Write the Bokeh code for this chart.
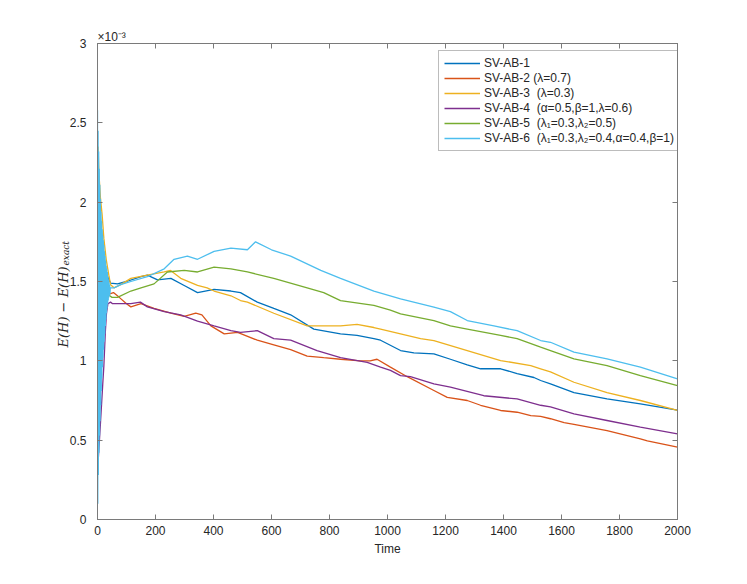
from bokeh.plotting import figure
from bokeh.models import LinearAxis, FixedTicker, Range1d, Title
from bokeh.embed import file_html
from bokeh.resources import INLINE

# ---------------- data (values in units of 1e-3) ----------------
t_ab1 = [0, 10, 20, 30, 45, 69, 100, 150, 172, 207, 253, 299, 345, 402, 460, 493, 551, 608, 666, 746,
         838, 895, 953, 976, 1045, 1091, 1160, 1217, 1275, 1321, 1390, 1447, 1505, 1528, 1562, 1643,
         1757, 1872, 2000]
v_ab1 = [1.40, 1.90, 1.70, 1.55, 1.49, 1.485, 1.50, 1.53, 1.54, 1.51, 1.52, 1.475, 1.43, 1.45, 1.44,
         1.43, 1.37, 1.33, 1.29, 1.20, 1.17, 1.16, 1.14, 1.13, 1.065, 1.05, 1.044, 1.01, 0.975, 0.95,
         0.95, 0.92, 0.895, 0.876, 0.855, 0.80, 0.76, 0.729, 0.69]

t_ab2 = [0, 20, 40, 55, 75, 100, 115, 150, 195, 253, 299, 339, 360, 391, 437, 483, 551, 608, 666, 723,
         780, 838, 907, 940, 964, 1010, 1068, 1160, 1206, 1275, 1321, 1390, 1447, 1494, 1528, 1562,
         1609, 1643, 1757, 1872, 1896, 2000]
v_ab2 = [1.40, 1.50, 1.42, 1.43, 1.40, 1.36, 1.34, 1.36, 1.33, 1.30, 1.28, 1.30, 1.29, 1.22, 1.17,
         1.18, 1.13, 1.10, 1.07, 1.03, 1.02, 1.01, 1.00, 1.00, 1.01, 0.96, 0.90, 0.813, 0.77, 0.75,
         0.72, 0.687, 0.676, 0.655, 0.65, 0.635, 0.61, 0.60, 0.56, 0.508, 0.495, 0.456]

t_ab3 = [0, 2, 5, 10, 16, 22, 30, 40, 45, 57, 80, 115, 172, 230, 252, 287, 345, 378, 402, 460, 493,
         517, 608, 723, 838, 895, 953, 976, 1045, 1114, 1160, 1275, 1390, 1494, 1528, 1562, 1643,
         1757, 1872, 2000]
v_ab3 = [1.40, 2.35, 2.18, 2.03, 1.92, 1.77, 1.64, 1.53, 1.48, 1.46, 1.48, 1.52, 1.54, 1.56, 1.57,
         1.52, 1.475, 1.46, 1.44, 1.41, 1.38, 1.37, 1.30, 1.22, 1.22, 1.23, 1.21, 1.20, 1.17, 1.14,
         1.128, 1.065, 1.002, 0.97, 0.95, 0.93, 0.865, 0.80, 0.75, 0.687]

t_ab4 = [0, 10, 18, 22, 27, 31, 36, 45, 52, 115, 148, 172, 230, 287, 345, 402, 460, 493, 551, 608,
         666, 757, 838, 930, 976, 1010, 1045, 1079, 1160, 1217, 1332, 1447, 1528, 1562, 1643, 1757,
         1872, 2000]
v_ab4 = [0.30, 0.60, 0.85, 0.97, 1.18, 1.30, 1.36, 1.37, 1.36, 1.36, 1.37, 1.34, 1.31, 1.29, 1.25,
         1.22, 1.19, 1.18, 1.19, 1.14, 1.13, 1.065, 1.02, 0.99, 0.96, 0.94, 0.907, 0.90, 0.855, 0.834,
         0.78, 0.76, 0.72, 0.71, 0.666, 0.624, 0.582, 0.54]

t_ab5 = [0, 20, 35, 50, 69, 115, 150, 195, 241, 299, 345, 402, 460, 517, 608, 723, 780, 838, 953,
         1010, 1045, 1160, 1217, 1275, 1390, 1447, 1528, 1562, 1643, 1757, 1872, 2000]
v_ab5 = [1.40, 1.50, 1.42, 1.40, 1.40, 1.44, 1.46, 1.485, 1.56, 1.57, 1.56, 1.59, 1.58, 1.56, 1.52,
         1.46, 1.43, 1.38, 1.35, 1.32, 1.296, 1.254, 1.22, 1.20, 1.16, 1.14, 1.086, 1.065, 1.012,
         0.97, 0.907, 0.844]

t_ab6 = [0, 1, 2, 3, 4, 5, 6, 7, 8, 9, 10, 11, 12, 13, 14, 15, 16, 17, 18, 19, 20, 21, 22, 23, 24,
         25, 26, 27, 28, 29, 30, 31, 32, 33, 34, 35, 36, 37, 38, 39, 40, 41, 42, 43, 44,
         57, 80, 115, 172, 230, 264, 310, 345, 402, 460, 517, 545, 600, 666, 770, 838, 953, 1045,
         1160, 1217, 1275, 1367, 1447, 1528, 1562, 1643, 1757, 1872, 2000]
v_ab6 = [2.58, 0.10, 2.45, 0.28, 2.32, 0.42, 2.21, 0.53, 2.11, 0.62, 2.02, 0.72, 1.94, 0.81, 1.88,
         0.89, 1.83, 0.96, 1.79, 1.02, 1.76, 1.07, 1.73, 1.12, 1.69, 1.17, 1.66, 1.22, 1.63, 1.26,
         1.60, 1.30, 1.58, 1.33, 1.56, 1.36, 1.53, 1.38, 1.51, 1.40, 1.49, 1.41, 1.48, 1.42, 1.46,
         1.46, 1.48, 1.50, 1.53, 1.58, 1.64, 1.66, 1.64, 1.69, 1.71, 1.70, 1.75, 1.70, 1.66, 1.57,
         1.52, 1.44, 1.39, 1.338, 1.31, 1.254, 1.22, 1.19, 1.128, 1.117, 1.055, 1.012, 0.96, 0.886]

series_labels = [
    "SV-AB-1",
    "SV-AB-2 (\u03bb=0.7)",
    "SV-AB-3  (\u03bb=0.3)",
    "SV-AB-4  (\u03b1=0.5,\u03b2=1,\u03bb=0.6)",
    "SV-AB-5  (\u03bb\u2081=0.3,\u03bb\u2082=0.5)",
    "SV-AB-6  (\u03bb\u2081=0.3,\u03bb\u2082=0.4,\u03b1=0.4,\u03b2=1)",
]
series_colors = ["#0072BD", "#D95319", "#EDB120", "#7E2F8E", "#77AC30", "#4DBEEE"]

x_ticks = [0, 200, 400, 600, 800, 1000, 1200, 1400, 1600, 1800, 2000]
y_ticks = [0, 0.5, 1, 1.5, 2, 2.5, 3]
y_tick_labels = ["0", "0.5", "1", "1.5", "2", "2.5", "3"]

# ---------------- figure ----------------
AX = "#7a7a7a"
TXT = "#262626"
FONT = "Liberation Sans"

p = figure(frame_width=580, frame_height=476,
           x_range=Range1d(0, 2000), y_range=Range1d(0, 3),
           output_backend="svg", toolbar_location=None,
           title="\u00d710\u207b\u00b3",
           min_border_left=97, min_border_right=54, min_border_top=43, min_border_bottom=49,
           background_fill_color="white", border_fill_color="white")
p.xgrid.visible = False
p.ygrid.visible = False
p.outline_line_color = AX
p.outline_line_width = 1

p.title.align = "left"
p.title.offset = 0
p.title.standoff = 0
p.title.text_font = FONT
p.title.text_font_size = "12px"
p.title.text_font_style = "normal"
p.title.text_color = TXT


def style_axis(ax, show_labels=True):
    ax.axis_line_color = AX
    ax.major_tick_line_color = AX
    ax.major_tick_in = 5
    ax.major_tick_out = 0
    ax.minor_tick_line_color = None
    ax.major_label_text_font = FONT
    if show_labels:
        ax.major_label_text_font_size = "12px"
        ax.major_label_text_color = TXT
    else:
        ax.major_label_text_font_size = "0px"
        ax.major_label_text_color = None
        ax.major_label_standoff = 0


style_axis(p.xaxis[0])
style_axis(p.yaxis[0])
p.xaxis[0].ticker = FixedTicker(ticks=x_ticks)
p.yaxis[0].ticker = FixedTicker(ticks=y_ticks)
p.yaxis[0].major_label_overrides = {float(k): v for k, v in zip(y_ticks, y_tick_labels)}
p.xaxis[0].major_label_standoff = 6
p.yaxis[0].major_label_standoff = 11
p.xaxis[0].axis_label = "Time"
p.xaxis[0].axis_label_text_font = FONT
p.xaxis[0].axis_label_text_font_style = "normal"
p.xaxis[0].axis_label_text_font_size = "12px"
p.xaxis[0].axis_label_text_color = TXT
p.xaxis[0].axis_label_standoff = 4

top = LinearAxis(ticker=FixedTicker(ticks=x_ticks))
style_axis(top, show_labels=False)
p.add_layout(top, "above")
right = LinearAxis(ticker=FixedTicker(ticks=y_ticks))
style_axis(right, show_labels=False)
p.add_layout(right, "right")

# y-axis label: E(H) - E(H)_exact (subscript set as a second, smaller title)
sub_title = Title(text="exact", align="left", offset=254, standoff=-8,
                  text_font="DejaVu Serif", text_font_style="italic",
                  text_font_size="9px", text_color=TXT)
p.add_layout(sub_title, "left")
main_title = Title(text="E(H) \u2212 E(H)", align="left", offset=172, standoff=-16,
                   text_font="DejaVu Serif", text_font_style="italic",
                   text_font_size="13px", text_color=TXT)
p.add_layout(main_title, "left")

# ---------------- lines ----------------
all_t = [t_ab1, t_ab2, t_ab3, t_ab4, t_ab5, t_ab6]
all_v = [v_ab1, v_ab2, v_ab3, v_ab4, v_ab5, v_ab6]
for t, v, c, lab in zip(all_t, all_v, series_colors, series_labels):
    p.line(t, v, line_color=c, line_width=1.3, legend_label=lab)

lg = p.legend[0]
lg.location = (341, 368)
lg.label_text_font = FONT
lg.label_text_font_size = "12px"
lg.label_text_color = TXT
lg.glyph_width = 36
lg.glyph_height = 14
lg.label_height = 14
lg.spacing = 1
lg.padding = 5
lg.label_standoff = 4
lg.margin = 0
lg.border_line_color = AX
lg.border_line_width = 1
lg.background_fill_alpha = 1.0

open("out.html", "w").write(file_html(p, INLINE))
